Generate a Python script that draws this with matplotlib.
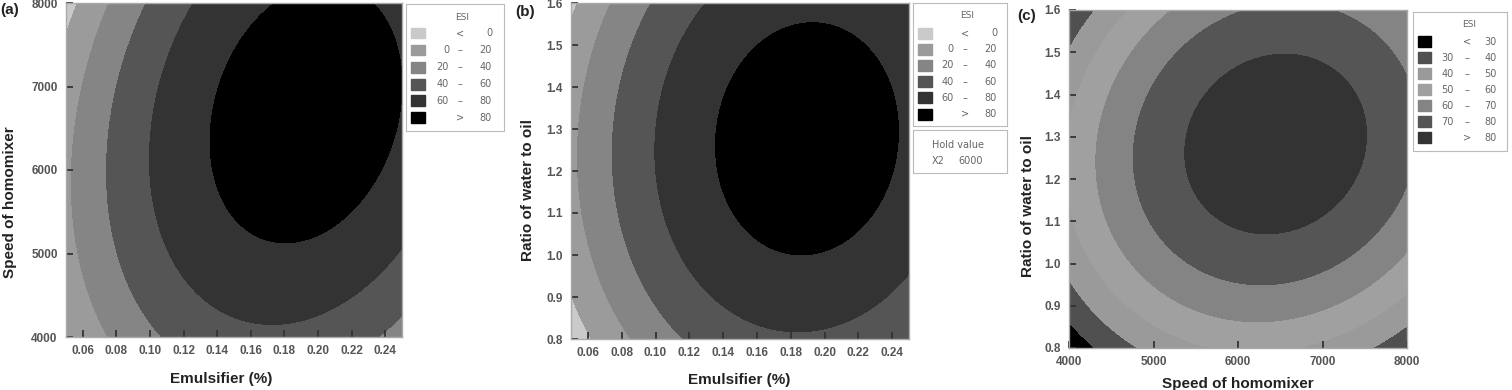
import numpy as np
import matplotlib.pyplot as plt
from matplotlib.patches import Rectangle

W, H = 1512, 390

# points read off the contour boundaries (x, y, ESI level)
# panel (a): emulsifier vs speed
a_emul = [0.175, 0.233, 0.247, 0.241, 0.225, 0.199, 0.183, 0.1535, 0.149, 0.1375, 0.134, 0.1375, 0.149,
          0.126, 0.110, 0.101, 0.100, 0.103, 0.114, 0.130, 0.1456, 0.1535, 0.1734, 0.193, 0.2131, 0.233, 0.2429, 0.250,
          0.097, 0.083, 0.075, 0.076, 0.083, 0.101, 0.237, 0.250,
          0.077, 0.064, 0.055, 0.057, 0.064, 0.070,
          0.056, 0.050, 0.050, 0.054]
a_speed = [8000, 8000, 6800, 6040, 5640, 5240, 5140, 5400, 7440, 6840, 6360, 5800, 5440,
           8000, 7240, 6440, 6040, 5440, 4840, 4440, 4244, 4264, 4244, 4264, 4384, 4563, 4764, 5040,
           8000, 7240, 6240, 5640, 4840, 4000, 4000, 4324,
           8000, 7240, 6040, 5240, 4440, 4000,
           8000, 7720, 4200, 4000]
a_esi = [80] * 13 + [60] * 15 + [40] * 8 + [20] * 6 + [0] * 4

# panel (b): emulsifier vs ratio, hold speed 6000
b_emul = [0.1906, 0.232, 0.2449, 0.236, 0.1876, 0.159, 0.147, 0.1353, 0.149, 0.157,
          0.1274, 0.1096, 0.0998, 0.1076, 0.1195, 0.1392, 0.1827, 0.232, 0.2498,
          0.0968, 0.082, 0.0751, 0.079, 0.1185,
          0.0731, 0.0613, 0.0553, 0.0583, 0.087,
          0.050, 0.0613]
b_ratio = [1.554, 1.447, 1.289, 1.130, 1.007, 1.051, 1.0905, 1.273, 1.447, 1.486,
           1.600, 1.447, 1.249, 1.051, 0.932, 0.853, 0.833, 0.877, 0.956,
           1.600, 1.447, 1.249, 1.051, 0.805,
           1.600, 1.447, 1.249, 1.051, 0.805,
           0.924, 0.800]
b_esi = [80] * 10 + [60] * 9 + [40] * 5 + [20] * 5 + [0] * 2

# panel (c): speed vs ratio
c_speed = [5370, 7500, 6450, 6300,
           4770, 5900, 7150, 8000, 8000, 6020,
           4340, 6020, 8000, 5250, 4460, 4740, 5130,
           4250, 4000, 4000, 4880, 8000, 7600,
           4000, 4300]
c_ratio = [1.280, 1.308, 1.489, 1.069,
           1.245, 1.600, 1.600, 1.438, 1.170, 0.953,
           1.229, 0.877, 1.020, 1.596, 1.375, 0.980, 0.901,
           1.600, 1.501, 0.965, 0.806, 0.854, 0.806,
           0.862, 0.806]
c_esi = [80] * 4 + [70] * 6 + [60] * 7 + [40] * 6 + [30] * 2

ab_bounds = [0, 20, 40, 60, 80]
ab_colors = ['#cacaca', '#9b9b9b', '#858585', '#555555', '#333333', '#000000']
c_bounds = [30, 40, 50, 60, 70, 80]
c_colors = ['#000000', '#505050', '#9a9a9a', '#a0a0a0', '#848484', '#555555', '#333333']


def quad_surface(x, y, z, xlim, ylim, n=300):
    # quadratic response surface fitted to the contour points,
    # reweighted by gradient so the boundaries sit where they were read
    xc, xh = (xlim[0] + xlim[1]) / 2, (xlim[1] - xlim[0]) / 2
    yc, yh = (ylim[0] + ylim[1]) / 2, (ylim[1] - ylim[0]) / 2
    u = (np.array(x, float) - xc) / xh
    v = (np.array(y, float) - yc) / yh
    z = np.array(z, float)
    A = np.column_stack([np.ones_like(u), u, v, u * u, v * v, u * v])
    c = np.linalg.lstsq(A, z, rcond=None)[0]
    for _ in range(8):
        gu = c[1] + 2 * c[3] * u + c[5] * v
        gv = c[2] + 2 * c[4] * v + c[5] * u
        w = 1 / (np.hypot(gu, gv) + 2)
        c = np.linalg.lstsq(A * w[:, None], z * w, rcond=None)[0]
    gx = np.linspace(xlim[0], xlim[1], n)
    gy = np.linspace(ylim[0], ylim[1], n)
    X, Y = np.meshgrid(gx, gy)
    U, V = (X - xc) / xh, (Y - yc) / yh
    Z = c[0] + c[1] * U + c[2] * V + c[3] * U * U + c[4] * V * V + c[5] * U * V
    return X, Y, Z


fig = plt.figure(figsize=(W / 100, H / 100), dpi=100)


def px_axes(l, t, r, b):
    return fig.add_axes([l / W, 1 - b / H, (r - l) / W, (b - t) / H])


def ftext(x, y, s, **kw):
    fig.text(x / W, 1 - y / H, s, **kw)


lab = dict(family='Liberation Sans', fontweight='bold', fontsize=11, color='#222222')


def panel(rect, x, y, z, xlim, ylim, bounds, colors, xticks, yticks, xfmt, yfmt):
    ax = px_axes(*rect)
    X, Y, Z = quad_surface(x, y, z, xlim, ylim)
    lv = [-1e4] + bounds + [1e4]
    ax.contourf(X, Y, Z, levels=lv, colors=colors, antialiased=False)
    ax.set_xlim(xlim)
    ax.set_ylim(ylim)
    ax.set_xticks(xticks)
    ax.set_yticks(yticks)
    ax.set_xticklabels([xfmt % t for t in xticks])
    ax.set_yticklabels([yfmt % t for t in yticks])
    ax.tick_params(direction='in', length=5, width=1.3, color='#333333', labelsize=8.5,
                   labelcolor='#555555', pad=6)
    for t in ax.get_xticklabels() + ax.get_yticklabels():
        t.set_fontweight('bold')
        t.set_family('Liberation Sans')
    for s in ax.spines.values():
        s.set_color('#aaaaaa')
        s.set_linewidth(1)
    return ax


def legend_box(rect, bounds, colors, row0, step, sx, cols):
    lx = px_axes(*rect)
    w, h = rect[2] - rect[0], rect[3] - rect[1]
    lx.set_xlim(0, w)
    lx.set_ylim(h, 0)
    lx.set_xticks([])
    lx.set_yticks([])
    for s in lx.spines.values():
        s.set_color('#bbbbbb')
    tk = dict(fontsize=7, color='#666666', va='center')
    lx.text(cols[1] + 2, 13, 'ESI', ha='center', fontsize=6.5, color='#666666', va='center')
    rows = [('', '<', str(bounds[0]))]
    rows += [(str(a), '–', str(b)) for a, b in zip(bounds[:-1], bounds[1:])]
    rows += [('', '>', str(bounds[-1]))]
    for i, (lo, sym, hi) in enumerate(rows):
        yy = row0 + i * step
        lx.add_patch(Rectangle((sx, yy - 5.5), 13.5, 11, color=colors[i]))
        lx.text(cols[0], yy, lo, ha='right', **tk)
        lx.text(cols[1], yy, sym, ha='center', **tk)
        lx.text(cols[2], yy, hi, ha='right', **tk)
    return lx


# (a)
panel((66, 3, 402, 337), a_emul, a_speed, a_esi, (0.05, 0.25), (4000, 8000), ab_bounds, ab_colors,
      [0.06, 0.08, 0.10, 0.12, 0.14, 0.16, 0.18, 0.20, 0.22, 0.24], [4000, 5000, 6000, 7000, 8000],
      '%.2f', '%d')
legend_box((406, 4, 504, 131), ab_bounds, ab_colors, 29, 17, 5, (43, 54, 86))
ftext(0, 10, '(a)', ha='left', va='center', **lab)
ftext(221, 379, 'Emulsifier (%)', ha='center', va='center', **lab)
ftext(10, 202, 'Speed of homomixer', ha='center', va='center', rotation=90, **lab)

# (b)
panel((571, 3, 909, 339), b_emul, b_ratio, b_esi, (0.05, 0.25), (0.8, 1.6), ab_bounds, ab_colors,
      [0.06, 0.08, 0.10, 0.12, 0.14, 0.16, 0.18, 0.20, 0.22, 0.24],
      [0.8, 0.9, 1.0, 1.1, 1.2, 1.3, 1.4, 1.5, 1.6], '%.2f', '%.1f')
legend_box((913, 3, 1007, 126), ab_bounds, ab_colors, 30, 16.2, 5, (41, 52, 84))
hx = px_axes(913, 130, 1007, 173)
hx.set_xlim(0, 94)
hx.set_ylim(43, 0)
hx.set_xticks([])
hx.set_yticks([])
for s in hx.spines.values():
    s.set_color('#bbbbbb')
hx.text(45, 15, 'Hold value', ha='center', va='center', fontsize=7, color='#666666')
hx.text(19, 31, 'X2', ha='left', va='center', fontsize=7, color='#666666')
hx.text(45, 31, '6000', ha='left', va='center', fontsize=7, color='#666666')
ftext(515, 12, '(b)', ha='left', va='center', **lab)
ftext(739, 380, 'Emulsifier (%)', ha='center', va='center', **lab)
ftext(528, 190, 'Ratio of water to oil', ha='center', va='center', rotation=90, **lab)

# (c)
panel((1069, 10, 1407, 348), c_speed, c_ratio, c_esi, (4000, 8000), (0.8, 1.6), c_bounds, c_colors,
      [4000, 5000, 6000, 7000, 8000], [0.8, 0.9, 1.0, 1.1, 1.2, 1.3, 1.4, 1.5, 1.6], '%d', '%.1f')
legend_box((1413, 12, 1507, 151), c_bounds, c_colors, 29.7, 16, 4.7, (41, 53.7, 83.7))
ftext(1017, 16, '(c)', ha='left', va='center', **lab)
ftext(1238, 384, 'Speed of homomixer', ha='center', va='center', **lab)
ftext(1028, 206, 'Ratio of water to oil', ha='center', va='center', rotation=90, **lab)

fig.savefig('out.png', dpi=100)
